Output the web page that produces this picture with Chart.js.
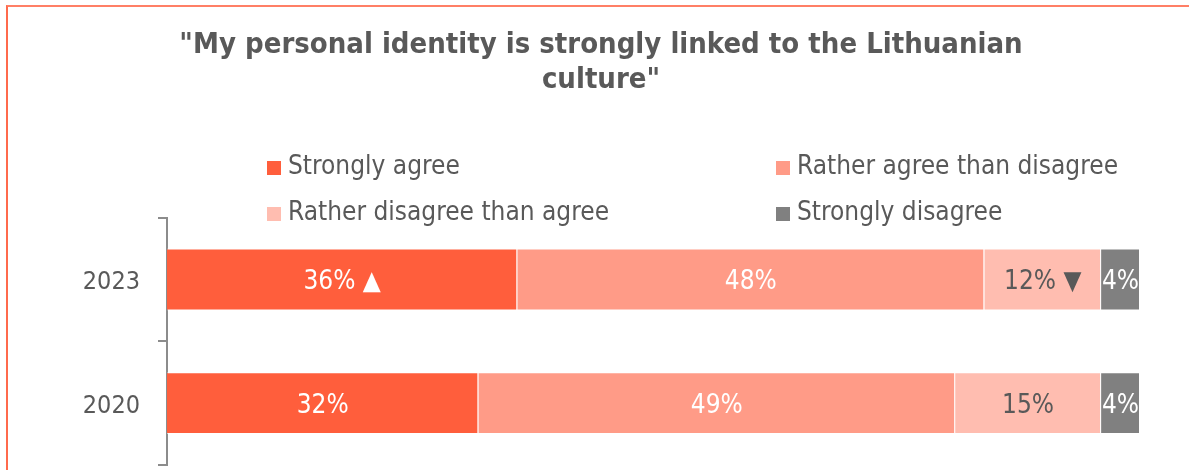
<!DOCTYPE html>
<html lang="en">
<head>
  <meta charset="UTF-8">
  <title>Personal identity and Lithuanian culture</title>
  <script src="https://cdn.jsdelivr.net/npm/chart.js"></script>
  <style>
    html, body { margin: 0; padding: 0; background: #fff; }
    .frame {
      position: relative;
      width: 1189px;
      height: 470px;
      overflow: hidden;
    }
    .frame::before {
      content: '';
      position: absolute;
      left: 6px;
      top: 5px;
      right: 0;
      bottom: 0;
      border-left: 2px solid #ff6a4c;
      border-top: 2px solid #ff7f66;
      pointer-events: none;
    }
    canvas { display: block; }
  </style>
</head>
<body>
  <div class="frame">
    <canvas id="grafico" width="1189" height="470"></canvas>
  </div>

  <script>
    const FONTE = "'DejaVu Sans Condensed', 'DejaVu Sans', sans-serif";
    const CINZA = '#595959';

    const anos = ['2023', '2020'];
    const respostas = ['Strongly agree', 'Rather agree than disagree', 'Rather disagree than agree', 'Strongly disagree'];
    const concordaTotal = [36, 32];
    const concordaParcial = [48, 49];
    const discordaParcial = [12, 15];
    const discordaTotal = [4, 4];
    // marcas de variação significativa (2023 vs 2020)
    const setasConcordaTotal = ['▲', ''];
    const setasDiscordaParcial = ['▼', ''];

    const cores = ['#ff5e3c', '#ff9b87', '#ffbdb0', '#808080'];
    const coresTexto = ['#ffffff', '#ffffff', CINZA, '#ffffff'];

    const series = [
      { label: respostas[0], data: concordaTotal, setas: setasConcordaTotal },
      { label: respostas[1], data: concordaParcial, setas: [] },
      { label: respostas[2], data: discordaParcial, setas: setasDiscordaParcial },
      { label: respostas[3], data: discordaTotal, setas: [] }
    ];

    // rótulos de valor no meio de cada segmento
    const rotulosBarras = {
      id: 'rotulosBarras',
      afterDatasetsDraw(chart) {
        const ctx = chart.ctx;
        ctx.save();
        ctx.font = '26px ' + FONTE;
        ctx.textAlign = 'center';
        ctx.textBaseline = 'middle';
        chart.data.datasets.forEach((ds, i) => {
          const meta = chart.getDatasetMeta(i);
          meta.data.forEach((bar, j) => {
            const seta = series[i].setas[j];
            const texto = ds.data[j] + '%' + (seta ? ' ' + seta : '');
            ctx.fillStyle = coresTexto[i];
            ctx.fillText(texto, (bar.x + bar.base) / 2, bar.y + 3);
          });
        });
        ctx.restore();
      }
    };

    // legenda em duas colunas
    const legendaColunas = {
      id: 'legendaColunas',
      afterDraw(chart) {
        const ctx = chart.ctx;
        const colunas = [267, 776];
        const linhas = [167, 213];
        ctx.save();
        ctx.font = '26px ' + FONTE;
        ctx.textBaseline = 'middle';
        ctx.textAlign = 'left';
        respostas.forEach((nome, i) => {
          const x = colunas[i % 2];
          const y = linhas[Math.floor(i / 2)];
          ctx.fillStyle = cores[i];
          ctx.fillRect(x, y - 6, 14, 14);
          ctx.fillStyle = CINZA;
          ctx.fillText(nome, x + 21, y);
        });
        ctx.restore();
      }
    };

    new Chart(document.getElementById('grafico'), {
      type: 'bar',
      data: {
        labels: anos,
        datasets: series.map((s, i) => ({
          label: s.label,
          data: s.data,
          backgroundColor: cores[i],
          borderColor: 'rgba(255,255,255,0.55)',
          borderWidth: 1,
          categoryPercentage: 1,
          barPercentage: 0.5
        }))
      },
      options: {
        indexAxis: 'y',
        responsive: false,
        animation: false,
        layout: { padding: { left: 62, right: 49, top: 0, bottom: 5 } },
        scales: {
          x: { stacked: true, min: 0, max: 100, display: false },
          y: {
            stacked: true,
            afterFit(scale) {
              scale.width = 105;
              scale.paddingTop = 0;
              scale.paddingBottom = 0;
            },
            grid: {
              offset: true,
              drawOnChartArea: false,
              tickLength: 9,
              color: '#8c8c8c',
              lineWidth: 2
            },
            border: { color: '#8c8c8c', width: 2 },
            ticks: {
              color: CINZA,
              padding: 18,
              labelOffset: 3,
              font: { family: FONTE, size: 25 }
            }
          }
        },
        plugins: {
          legend: { display: false },
          tooltip: { enabled: false },
          title: {
            display: true,
            text: ['"My personal identity is strongly linked to the Lithuanian', 'culture"'],
            color: CINZA,
            font: { family: FONTE, size: 29, weight: 'bold', lineHeight: 1.2 },
            padding: { top: 28, bottom: 120 }
          }
        }
      },
      plugins: [rotulosBarras, legendaColunas]
    });
  </script>
</body>
</html>
